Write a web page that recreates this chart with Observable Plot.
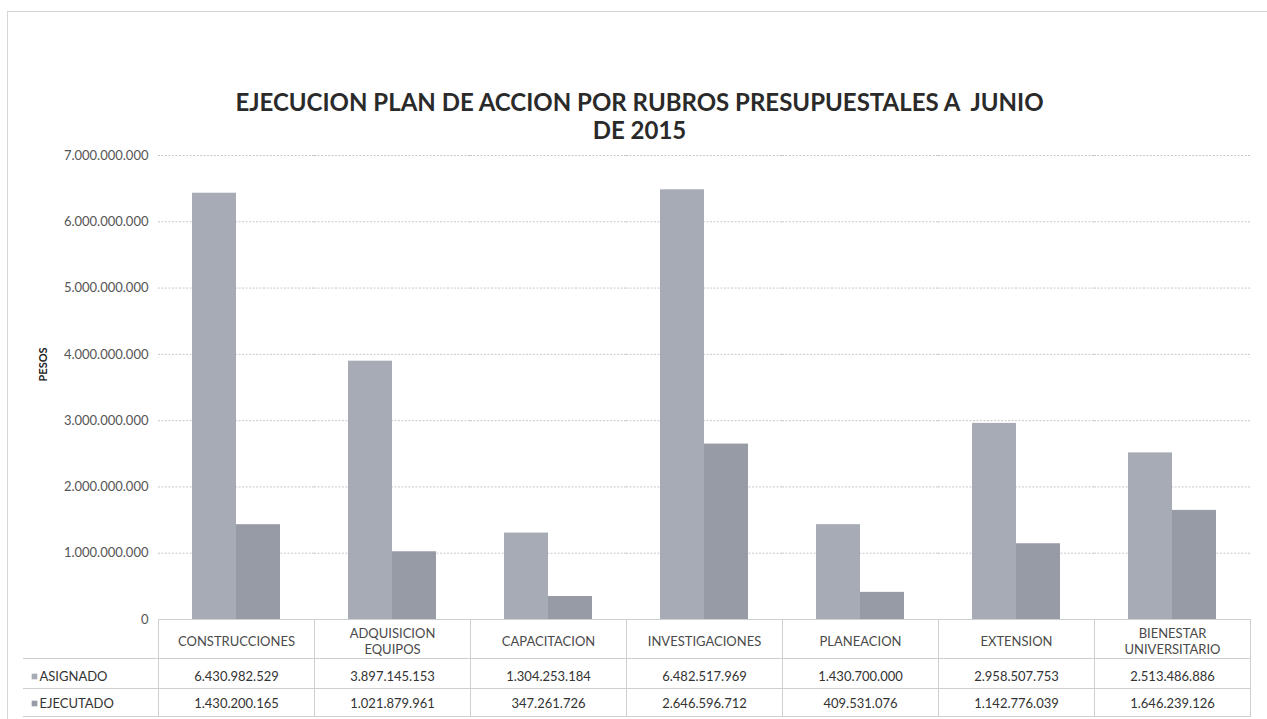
<!DOCTYPE html>
<html>
<head>
<meta charset="utf-8">
<script src="https://cdn.jsdelivr.net/npm/d3@7"></script>
<script src="https://cdn.jsdelivr.net/npm/@observablehq/plot@0.6"></script>
<style>
  body { margin: 0; background: #fff; }
  #wrap { position: relative; width: 1267px; height: 719px; overflow: hidden; font-family: Lato, "Open Sans", sans-serif; }
  #border { position: absolute; left: 7px; top: 11px; width: 1262px; height: 712px; border: 1px solid #d6d6d6; box-sizing: border-box; }
  #title { position: absolute; top: 88px; left: 6px; width: 1267px; text-align: center; font-size: 24px; line-height: 28px; font-weight: 700; color: #2a2a2a; white-space: pre; }
  #chart { position: absolute; left: 0; top: 145px; }
</style>
</head>
<body>
<div id="wrap">
  <div id="border"></div>
  <div id="title">EJECUCION PLAN DE ACCION POR RUBROS PRESUPUESTALES A  JUNIO
DE 2015</div>
  <div id="chart"></div>
</div>
<script>
const categorias = ["CONSTRUCCIONES", "ADQUISICION\nEQUIPOS", "CAPACITACION", "INVESTIGACIONES", "PLANEACION", "EXTENSION", "BIENESTAR\nUNIVERSITARIO"];
const series = ["ASIGNADO", "EJECUTADO"];
const asignado = [6430982529, 3897145153, 1304253184, 6482517969, 1430700000, 2958507753, 2513486886];
const ejecutado = [1430200165, 1021879961, 347261726, 2646596712, 409531076, 1142776039, 1646239126];
const yTicks = [0, 1000000000, 2000000000, 3000000000, 4000000000, 5000000000, 6000000000, 7000000000];
const colores = ["#a7abb6", "#979ba6"];

const loc = d3.formatLocale({decimal: ",", thousands: ".", grouping: [3], currency: ["$", ""]});
const fmt = loc.format(",d");

const datos = categorias.flatMap((c, i) => [
  {cat: c, serie: series[0], valor: asignado[i]},
  {cat: c, serie: series[1], valor: ejecutado[i]}
]);
const cats = categorias.map(c => ({cat: c}));
const first = categorias[0];

const H = 574, MT = 10, MB = 100;
const frameH = H - MT - MB;
const rowLines = [39, 69, 97];
const lineColor = "#cfcfcf";

const marks = [
  Plot.ruleY(yTicks.slice(1), {stroke: "#c8c8c8", strokeDasharray: "2,1.5"}),
  Plot.barY(datos, {fx: "cat", x: "serie", y: "valor", fill: "serie"}),
  Plot.ruleY([0], {stroke: "#bdbdbd"}),
  // table cell borders per column
  Plot.frame({stroke: lineColor, insetTop: frameH, insetBottom: -97}),
  ...rowLines.map(o => Plot.ruleY([0], {stroke: lineColor, dy: o})),
  ...rowLines.map(o => Plot.ruleY([{cat: first, v: 0}], {fx: "cat", y: "v", stroke: lineColor, dx: -135, dy: o})),
  // category labels
  Plot.text(cats, {fx: "cat", text: "cat", frameAnchor: "bottom", dy: 21, lineAnchor: "middle", lineHeight: 1.25, fontSize: 13, fill: "#4a4a4a"}),
  // value rows
  Plot.text(datos.filter(d => d.serie === series[0]), {fx: "cat", text: d => fmt(d.valor), frameAnchor: "bottom", dy: 57, lineAnchor: "middle", fontSize: 13, fill: "#333"}),
  Plot.text(datos.filter(d => d.serie === series[1]), {fx: "cat", text: d => fmt(d.valor), frameAnchor: "bottom", dy: 84, lineAnchor: "middle", fontSize: 13, fill: "#333"}),
  // row headers
  Plot.dot([{cat: first, serie: series[0]}], {fx: "cat", fill: "serie", symbol: "square", r: 3.2, frameAnchor: "bottom-left", dx: -124, dy: 57}),
  Plot.dot([{cat: first, serie: series[1]}], {fx: "cat", fill: "serie", symbol: "square", r: 3.2, frameAnchor: "bottom-left", dx: -124, dy: 84}),
  Plot.text([{cat: first, t: series[0]}], {fx: "cat", text: "t", frameAnchor: "bottom-left", textAnchor: "start", dx: -119, dy: 57, lineAnchor: "middle", fontSize: 13, fill: "#333"}),
  Plot.text([{cat: first, t: series[1]}], {fx: "cat", text: "t", frameAnchor: "bottom-left", textAnchor: "start", dx: -119, dy: 84, lineAnchor: "middle", fontSize: 13, fill: "#333"}),
  // y label
  Plot.text([{cat: first, t: "PESOS"}], {fx: "cat", text: "t", frameAnchor: "left", dx: -115, dy: -6, rotate: -90, fontWeight: "bold", fontSize: 11, fill: "#222"})
];

const chart = Plot.plot({
  width: 1267,
  height: H,
  marginTop: MT,
  marginBottom: MB,
  marginLeft: 155,
  marginRight: 15,
  style: {fontFamily: "Lato, 'Open Sans', sans-serif", fontSize: "13px", color: "#555", background: "transparent", overflow: "visible"},
  fx: {domain: categorias, padding: 0, axis: null, label: null},
  x: {domain: series, paddingInner: 0, paddingOuter: 0.74, axis: null},
  y: {domain: [0, 7000000000], ticks: yTicks, tickFormat: fmt, tickSize: 0, tickPadding: 10, label: null},
  color: {domain: series, range: colores},
  marks
});
document.getElementById("chart").appendChild(chart);
</script>
</body>
</html>
